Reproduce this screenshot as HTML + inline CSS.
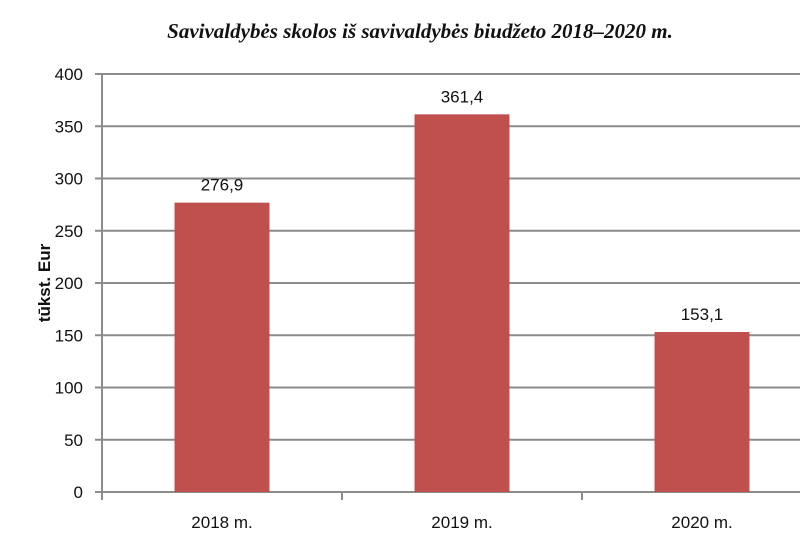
<!DOCTYPE html>
<html><head><meta charset="utf-8"><style>
body{margin:0;background:#fff;width:800px;height:542px;overflow:hidden}
svg{display:block}
text{font-family:"Liberation Sans",sans-serif;fill:#111}
</style></head><body>
<svg id="chart" width="800" height="542">
<text x="420" y="38" text-anchor="middle" style="font-family:'Liberation Serif',serif;font-weight:bold;font-style:italic;font-size:21px">Savivaldybės skolos iš savivaldybės biudžeto 2018–2020 m.</text>
<text transform="translate(50,283) rotate(-90)" text-anchor="middle" style="font-weight:bold;font-size:17px">tūkst. Eur</text>
<g id="grid"></g><g id="bars"></g>
</svg>
<script>
const categories=["2018 m.","2019 m.","2020 m."];
const values=[276.9,361.4,153.1];
const valueLabels=["276,9","361,4","153,1"];
const yTicks=[0,50,100,150,200,250,300,350,400];
const NS="http://www.w3.org/2000/svg";
const x0=102,catW=240,barW=95,yBase=492,yTop=74;
const y=v=>yBase-(v/400)*(yBase-yTop);
const xc=i=>x0+catW*(i+0.5);
const grid=document.getElementById('grid'),bars=document.getElementById('bars');
function mk(t,a,p){const e=document.createElementNS(NS,t);for(const k in a)e.setAttribute(k,a[k]);p.appendChild(e);return e;}
yTicks.forEach(t=>{
 const l=mk('line',{x1:95,x2:800,y1:y(t),y2:y(t),stroke:'#8c8c8c','stroke-width':2},grid);
 
 
 const tx=mk('text',{x:83,y:y(t)+6,'text-anchor':'end','font-size':17},grid);
 tx.textContent=t;
 
 
});
const ax=mk('line',{x1:x0,x2:x0,y1:yTop,y2:yBase,stroke:'#8c8c8c','stroke-width':2},grid);


categories.forEach((c,i)=>{
 const tk=mk('line',{x1:x0+catW*i,x2:x0+catW*i,y1:yBase,y2:yBase+8,stroke:'#8c8c8c','stroke-width':2},grid);
 
 
 const r=mk('rect',{x:xc(i)-barW/2,y:y(values[i]),width:barW,height:yBase-y(values[i]),fill:'#c0504d'},bars);
 
 
 const vl=mk('text',{x:xc(i),y:y(values[i])-12,'text-anchor':'middle','font-size':17},bars);
 vl.textContent=valueLabels[i];
 
 
 const cl=mk('text',{x:xc(i),y:528,'text-anchor':'middle','font-size':17},bars);
 cl.textContent=c;
 
 
});
</script>
</body></html>
